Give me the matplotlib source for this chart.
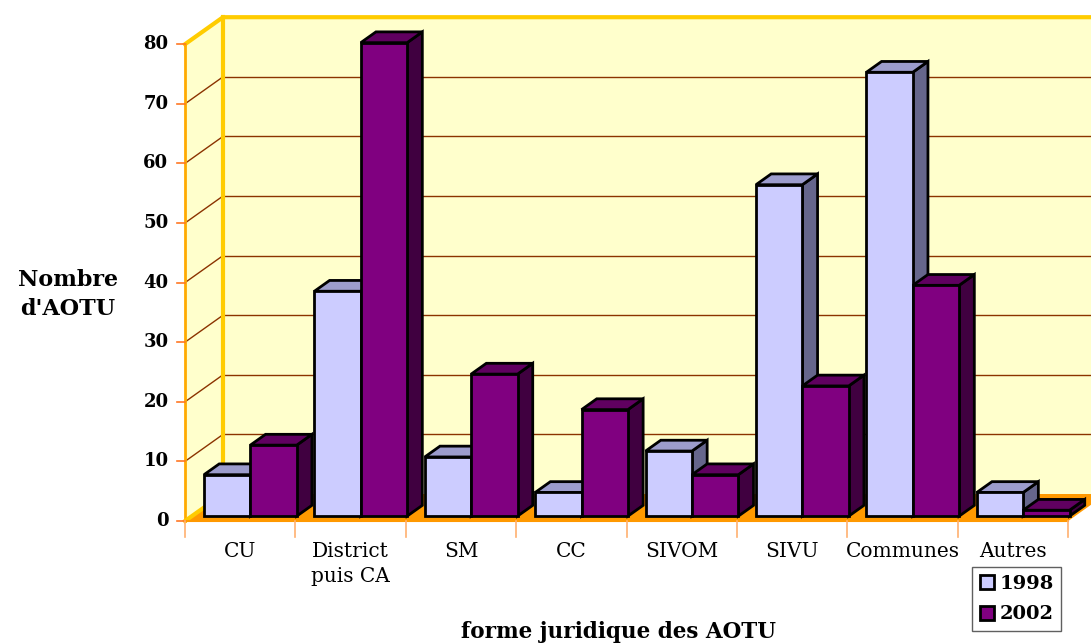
import matplotlib
matplotlib.use("Agg")
import matplotlib.pyplot as plt
from matplotlib.patches import Polygon, Patch

categories = ["CU", "District\npuis CA", "SM", "CC", "SIVOM", "SIVU", "Communes", "Autres"]
years = ["1998", "2002"]
v1998 = [7, 38, 10, 4, 11, 56, 75, 4]
v2002 = [12, 80, 24, 18, 7, 22, 39, 1]
yticks = [0, 10, 20, 30, 40, 50, 60, 70, 80]

# colours: front, top, side
c1998 = ("#CCCCFF", "#9C9CCC", "#66668C")
c2002 = ("#800080", "#600060", "#400040")

plt.rcParams["font.family"] = ["DejaVu Serif"]

fig = plt.figure(figsize=(10.91, 6.44), dpi=100)
ax = fig.add_axes([0, 0, 1, 1])
# one category = 110.4 px, one unit = 5.96 px; origin at pixel (185, 521)
ax.set_xlim(-185 / 110.4, (1091 - 185) / 110.4)
ax.set_ylim(-(644 - 521) / 5.96, 521 / 5.96)
ax.axis("off")

n = len(categories)
ymax = 80
DX, DY = 38 / 110.4, 27 / 5.96   # depth offset of the back wall
wall = "#FFFFCC"
gold = "#FFCC00"
grid = "#8B3300"

# back wall and side wall
ax.add_patch(Polygon([(DX, DY), (n + DX, DY), (n + DX, ymax + DY), (DX, ymax + DY)],
                     facecolor=wall, edgecolor="none", zorder=0))
ax.add_patch(Polygon([(0, 0), (DX, DY), (DX, ymax + DY), (0, ymax)],
                     facecolor=wall, edgecolor="none", zorder=0))
for v in yticks[1:]:
    ax.plot([DX, n + DX], [v + DY, v + DY], color=grid, lw=1, zorder=0.5)
    ax.plot([0, DX], [v, v + DY], color=grid, lw=1, zorder=0.5)
ax.plot([DX, DX], [DY, ymax + DY], color=gold, lw=3, zorder=0.6)
ax.plot([0, DX, n + DX], [ymax, ymax + DY, ymax + DY], color=gold, lw=3, zorder=0.6)
ax.plot([0, 0], [0, ymax], color="#FFAA00", lw=2, zorder=0.6)

# floor
ax.add_patch(Polygon([(0, 0), (n, 0), (n + DX, DY), (DX, DY)],
                     facecolor="#FF9900", edgecolor="none", zorder=0.7))
ax.plot([0, DX], [0, DY], color=gold, lw=3, zorder=0.8)
ax.plot([0, n], [0, 0], color="#FF9900", lw=1.5, zorder=0.8)

# ticks
for v in yticks:
    ax.plot([-0.07, 0], [v, v], color="#FF7722", lw=1.2, zorder=0.8)
    ax.text(-0.15, v, str(v), ha="right", va="center", fontsize=13, fontweight="bold")
for i in range(n + 1):
    ax.plot([i, i], [0, -2.7], color="#FFB070", lw=1.2, zorder=0.8)
for i, lab in enumerate(categories):
    ax.text(i + 0.5, -3.6, lab, ha="center", va="top", fontsize=14.5, linespacing=1.4)

# 3D bars (bars stand slightly behind the front plane)
bw = 0.42
f0 = 0.18
fd = 0.40
persp = 0.993
z = 2
for i in range(n):
    for j, (vals, cols) in enumerate([(v1998, c1998), (v2002, c2002)]):
        h = vals[i] * persp
        xl = i + 0.172 + j * bw
        xr = xl + bw
        b = f0 * DY
        t = b + h
        ox, oy = fd * DX, fd * DY
        ax.add_patch(Polygon([(xr, b), (xr + ox, b + oy), (xr + ox, t + oy), (xr, t)],
                             facecolor=cols[2], edgecolor="black", lw=2, zorder=z))
        ax.add_patch(Polygon([(xl, t), (xr, t), (xr + ox, t + oy), (xl + ox, t + oy)],
                             facecolor=cols[1], edgecolor="black", lw=2, zorder=z))
        ax.bar(xl, h, width=bw, bottom=b, align="edge", color=cols[0],
               edgecolor="black", linewidth=2, zorder=z + 0.5)
        z += 1

ax.text(-1.06, 38, "Nombre\nd'AOTU", ha="center", va="center", fontsize=16,
        fontweight="bold", linespacing=1.45)
ax.text(3.93, -18.7, "forme juridique des AOTU", ha="center", va="center",
        fontsize=15.5, fontweight="bold")

handles = [Patch(facecolor=c1998[0], edgecolor="black", linewidth=2),
           Patch(facecolor=c2002[0], edgecolor="black", linewidth=2)]
leg = ax.legend(handles, years, loc="upper left", bbox_to_anchor=(972 / 1091, 1 - 567 / 644),
                frameon=True, fancybox=False, edgecolor="#606060", framealpha=1,
                handlelength=0.75, handleheight=0.75, handletextpad=0.25,
                labelspacing=0.65, borderpad=0.4, borderaxespad=0,
                prop={"size": 14, "weight": "bold"})
leg.get_frame().set_linewidth(1)

fig.savefig("out.png", dpi=100)
